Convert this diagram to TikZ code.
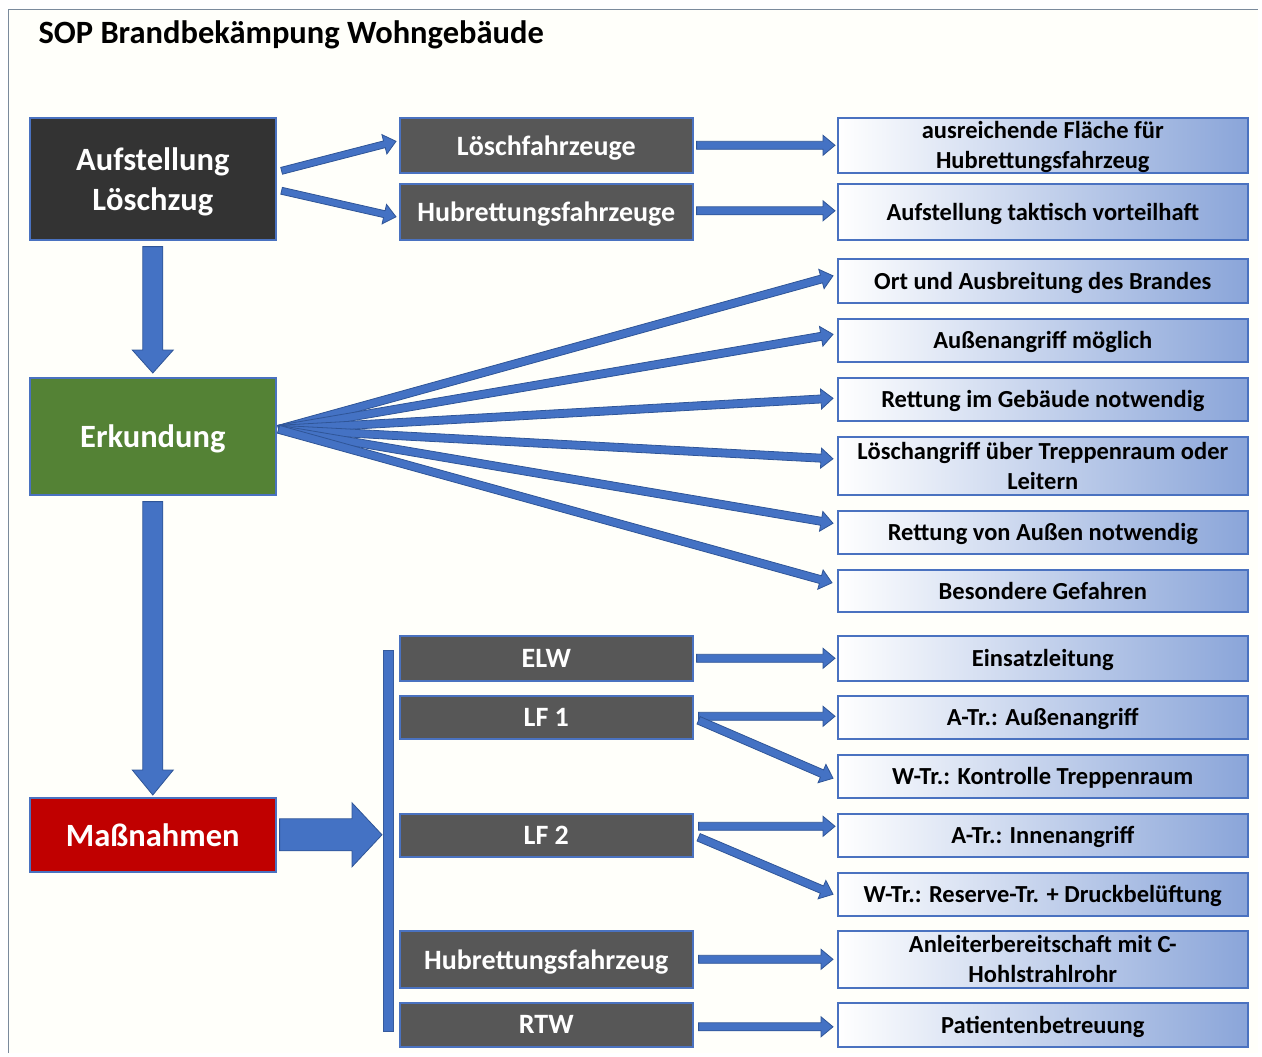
\documentclass[tikz,border=0pt]{standalone}
\usepackage{fontspec}
\setmainfont{Carlito}
\usetikzlibrary{calc}

\definecolor{frameline}{HTML}{7A8A9C}
\definecolor{boxline}{HTML}{4A72C0}
\definecolor{arrowfill}{HTML}{4472C4}
\definecolor{arrowedge}{HTML}{2F5597}
\definecolor{darkbox}{HTML}{333333}
\definecolor{midbox}{HTML}{575757}
\definecolor{greenbox}{HTML}{548235}
\definecolor{redbox}{HTML}{C00000}
\definecolor{shadeblue}{HTML}{8AA5D9}

\tikzset{
  mainbox/.style={draw=boxline, line width=1.6pt, anchor=north west, inner sep=0pt,
    minimum width=246pt, text=white, align=center, text depth=0pt,
    font=\fontsize{32.5}{40}\selectfont\bfseries},
  vehbox/.style={draw=boxline, line width=1.6pt, anchor=north west, inner sep=0pt,
    fill=midbox, minimum width=293pt, text=white, align=center, text depth=0pt,
    font=\fontsize{28}{31}\selectfont\bfseries},
  taskbox/.style={draw=boxline, line width=1.6pt, anchor=north west, inner sep=0pt,
    left color=white, right color=shadeblue, minimum width=410pt, text=black,
    align=center, text depth=0pt, font=\fontsize{24.5}{30}\selectfont\bfseries},
  arrowbody/.style={fill=arrowfill, draw=arrowedge, line width=0.8pt, line join=miter},
}

% block arrow: start, end, shaft half width, head half width, head length
\newcommand\blockarrow[5]{%
  \coordinate (ba-s) at (#1);
  \coordinate (ba-e) at (#2);
  \coordinate (ba-h) at ($(ba-e)!#5!(ba-s)$);
  \filldraw[arrowbody]
    ($(ba-s)!#3!90:(ba-e)$) -- ($(ba-h)!#3!90:(ba-e)$) -- ($(ba-h)!#4!90:(ba-e)$)
    -- (ba-e)
    -- ($(ba-h)!#4!-90:(ba-e)$) -- ($(ba-h)!#3!-90:(ba-e)$) -- ($(ba-s)!#3!-90:(ba-e)$)
    -- cycle;
}

\begin{document}
\begin{tikzpicture}[x=1pt, y=-1pt]
  \useasboundingbox (0,0) rectangle (1262,1057);
  \fill[white!98!yellow] (8,10) rectangle (1258,1053);
  \draw[frameline, line width=1pt] (8,1053) -- (8,10) -- (1258,10);

  % title
  \node[anchor=west, font=\fontsize{32.5}{38}\selectfont\bfseries] (title) at (35,35)
    {SOP Brandbekämpung Wohngebäude};

  % main column
  \node[mainbox, fill=darkbox, minimum height=122pt] (auf) at (29,117) {Aufstellung\\Löschzug};
  \node[mainbox, fill=greenbox, minimum height=117pt] (erk) at (29,377) {Erkundung};
  \node[mainbox, fill=redbox, minimum height=74pt] (mass) at (29,797) {Maßnahmen};

  % vehicles
  \node[vehbox, minimum height=55pt] (lfz) at (399,117) {Löschfahrzeuge};
  \node[vehbox, minimum height=56pt] (hrz) at (399,183) {Hubrettungsfahrzeuge};
  \node[vehbox, minimum height=45pt] (elw) at (399,635) {ELW};
  \node[vehbox, minimum height=43pt] (lf1) at (399,695) {LF 1};
  \node[vehbox, minimum height=43pt] (lf2) at (399,813) {LF 2};
  \node[vehbox, minimum height=57pt] (hrf) at (399,930) {Hubrettungsfahrzeug};
  \node[vehbox, minimum height=44pt] (rtw) at (399,1002) {RTW};

  % tasks
  \node[taskbox, minimum height=55pt] (t1) at (837,117) {ausreichende Fläche für\\Hubrettungsfahrzeug};
  \node[taskbox, minimum height=56pt] (t2) at (837,183) {Aufstellung taktisch vorteilhaft};
  \node[taskbox, minimum height=44pt] (t3) at (837,258) {Ort und Ausbreitung des Brandes};
  \node[taskbox, minimum height=43pt] (t4) at (837,318) {Außenangriff möglich};
  \node[taskbox, minimum height=43pt] (t5) at (837,377) {Rettung im Gebäude notwendig};
  \node[taskbox, minimum height=58pt] (t6) at (837,436) {Löschangriff über Treppenraum oder\\Leitern};
  \node[taskbox, minimum height=43pt] (t7) at (837,510) {Rettung von Außen notwendig};
  \node[taskbox, minimum height=42pt] (t8) at (837,569) {Besondere Gefahren};
  \node[taskbox, minimum height=45pt] (t9) at (837,635) {Einsatzleitung};
  \node[taskbox, minimum height=43pt] (t10) at (837,695) {A-Tr.: Außenangriff};
  \node[taskbox, minimum height=43pt] (t11) at (837,754) {W-Tr.: Kontrolle Treppenraum};
  \node[taskbox, minimum height=43pt] (t12) at (837,813) {A-Tr.: Innenangriff};
  \node[taskbox, minimum height=43pt] (t13) at (837,872) {W-Tr.: Reserve-Tr. + Druckbelüftung};
  \node[taskbox, minimum height=57pt] (t14) at (837,930) {Anleiterbereitschaft mit C-\\Hohlstrahlrohr};
  \node[taskbox, minimum height=44pt] (t15) at (837,1002) {Patientenbetreuung};

  % distribution bar for the measures
  \coordinate (bartop) at ($(elw.north west)+(-16,15)$);
  \coordinate (barbot) at ($(rtw.south west)+(-6,-16)$);
  \filldraw[fill=arrowfill, draw=arrowfill!80!black, line width=0.5pt] (bartop) rectangle (barbot);

  % main flow
  \blockarrow{$(auf.south)+(0,6)$}{$(erk.north)+(0,-4)$}{10pt}{20.5pt}{23pt}
  \blockarrow{$(erk.south)+(0,6)$}{$(mass.north)+(0,-2)$}{10pt}{20.5pt}{25pt}
  \blockarrow{$(mass.east)+(3,0)$}{$(bartop |- mass.east)+(-1,0)$}{16pt}{32pt}{30pt}

  % setup
  \blockarrow{$(auf.east)+(5,-8)$}{$(lfz.west)+(-3,-4)$}{3.5pt}{10pt}{12pt}
  \blockarrow{$(auf.east)+(5,12)$}{$(hrz.west)+(-3,5)$}{3.5pt}{10pt}{12pt}
  \blockarrow{$(lfz.east)+(3,0)$}{$(t1.west)+(-2,0)$}{4pt}{10pt}{12pt}
  \blockarrow{$(hrz.east)+(3,-1)$}{$(t2.west)+(-2,-1)$}{4pt}{10pt}{12pt}

  % reconnaissance fan
  \coordinate (fan) at ($(erk.east)+(2,-7)$);
  \blockarrow{fan}{$(t3.west)+(-4,-5)$}{4pt}{10pt}{12pt}
  \blockarrow{fan}{$(t4.west)+(-4,-6)$}{4pt}{10pt}{12pt}
  \blockarrow{fan}{$(t5.west)+(-4,-1)$}{4pt}{10pt}{12pt}
  \blockarrow{fan}{$(t6.west)+(-4,-7)$}{4pt}{10pt}{12pt}
  \blockarrow{fan}{$(t7.west)+(-4,-9)$}{4pt}{10pt}{12pt}
  \blockarrow{fan}{$(t8.west)+(-5,-8)$}{4pt}{10pt}{12pt}

  % measures
  \blockarrow{$(elw.east)+(3,0)$}{$(t9.west)+(-2,0)$}{4pt}{10pt}{12pt}
  \blockarrow{$(lf1.east)+(5,-1)$}{$(t10.west)+(-2,-1)$}{4pt}{10pt}{12pt}
  \blockarrow{$(lf1.east)+(5,3)$}{$(t11.west)+(-4,2)$}{4pt}{10pt}{12pt}
  \blockarrow{$(lf2.east)+(5,-9)$}{$(t12.west)+(-2,-9)$}{4pt}{10pt}{12pt}
  \blockarrow{$(lf2.east)+(5,2)$}{$(t13.west)+(-4,0)$}{4pt}{10pt}{12pt}
  \blockarrow{$(hrf.east)+(5,0)$}{$(t14.west)+(-4,0)$}{4pt}{10pt}{12pt}
  \blockarrow{$(rtw.east)+(5,2)$}{$(t15.west)+(-4,2)$}{4pt}{10pt}{12pt}
\end{tikzpicture}
\end{document}
